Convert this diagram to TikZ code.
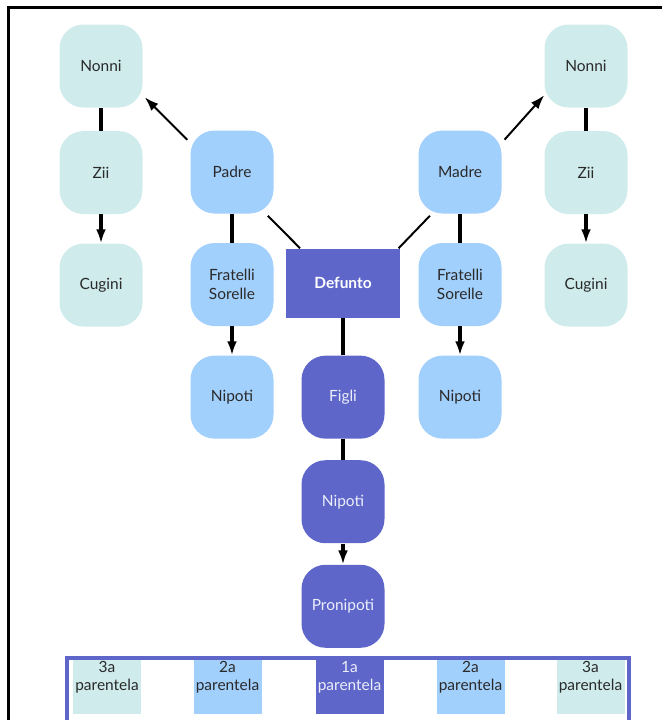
\documentclass[tikz,border=0pt]{standalone}
\usepackage{fontspec}
\setmainfont{Lato}
\usetikzlibrary{positioning,arrows.meta}

\definecolor{pale}{HTML}{CFEBEB}
\definecolor{sky}{HTML}{A2D0FD}
\definecolor{deep}{HTML}{5E66C9}
\definecolor{ink}{HTML}{2A2A2A}
\definecolor{soft}{HTML}{ECEEFA}

\tikzset{
  kin/.style={rounded corners=0.6cm,minimum width=2.075cm,minimum height=2.075cm,inner sep=2pt,align=center,font=\fontsize{11}{13.5}\selectfont},
  kin3/.style={kin,fill=pale,text=ink},
  kin2/.style={kin,fill=sky,text=ink},
  kin1/.style={kin,fill=deep,text=soft},
  bond/.style={line width=2.4pt},
  branch/.style={line width=1.4pt},
}

\begin{document}
\begin{tikzpicture}[>={Latex[length=10pt,width=7pt]}]
\useasboundingbox (0,0) rectangle (16.55,-18);
\draw[line width=2.2pt] (16.55,-0.1875) -- (0.2125,-0.1875) -- (0.2125,-18);

% defunto and parents
\node[fill=deep,text=white,minimum width=2.85cm,minimum height=1.725cm,font=\fontsize{11}{13.5}\selectfont\bfseries] (Defunto) at (8.575,-7.075) {Defunto};
\node[kin2] (Padre) at (5.8,-4.3) {Padre};
\node[kin2] (Madre) at (11.5,-4.3) {Madre};

% left side
\node[kin3] (NonniL) at (2.525,-1.65) {Nonni};
\node[kin3,below=0.575cm of NonniL] (ZiiL) {Zii};
\node[kin3,below=0.725cm of ZiiL] (CuginiL) {Cugini};
\node[kin2,below=0.725cm of Padre] (FratelliL) {Fratelli\\Sorelle};
\node[kin2,below=0.725cm of FratelliL] (NipotiL) {Nipoti};

% right side
\node[kin3] (NonniR) at (14.65,-1.65) {Nonni};
\node[kin3,below=0.575cm of NonniR] (ZiiR) {Zii};
\node[kin3,below=0.725cm of ZiiR] (CuginiR) {Cugini};
\node[kin2,below=0.725cm of Madre] (FratelliR) {Fratelli\\Sorelle};
\node[kin2,below=0.725cm of FratelliR] (NipotiR) {Nipoti};

% descendants
\node[kin1,below=0.94cm of Defunto] (Figli) {Figli};
\node[kin1,below=0.525cm of Figli] (NipotiC) {Nipoti};
\node[kin1,below=0.525cm of NipotiC] (Pronipoti) {Pronipoti};

\draw[bond] (NonniL) -- (ZiiL);
\draw[bond,->] (ZiiL) -- (CuginiL);
\draw[bond] (NonniR) -- (ZiiR);
\draw[bond,->] (ZiiR) -- (CuginiR);
\draw[bond] (Padre) -- (FratelliL);
\draw[bond,->] (FratelliL) -- (NipotiL);
\draw[bond] (Madre) -- (FratelliR);
\draw[bond,->] (FratelliR) -- (NipotiR);
\draw[bond] (Defunto) -- (Figli);
\draw[bond] (Figli) -- (NipotiC);
\draw[bond,->] (NipotiC) -- (Pronipoti);

\draw[branch,->,shorten <=3pt,shorten >=2pt] (Padre.145) -- (NonniL.-35);
\draw[branch,->,shorten <=3pt] (Madre.35) -- (NonniR.215);
\draw[branch,shorten <=2pt] (Padre.-51) -- (Defunto.141);
\draw[branch,shorten <=2pt] (Madre.236) -- (Defunto.32);

% legenda
\draw[line width=2.4pt,draw=deep] (1.675,-18) |- (15.725,-16.45) -- (15.725,-18);
\foreach \x/\c/\t/\k [count=\n] in {2.675/pale/3a/ink,5.6875/sky/2a/ink,8.7375/deep/1a/soft,11.7625/sky/2a/ink,14.7625/pale/3a/ink}
  \node[fill=\c,minimum width=1.7cm,minimum height=1.35cm,inner sep=0pt,
        label={[anchor=north,inner sep=1pt,align=center,text=\k,font=\fontsize{11}{12.5}\selectfont]north:\t\\parentela}] (L\n) at (\x,-17.175) {};
\end{tikzpicture}
\end{document}
